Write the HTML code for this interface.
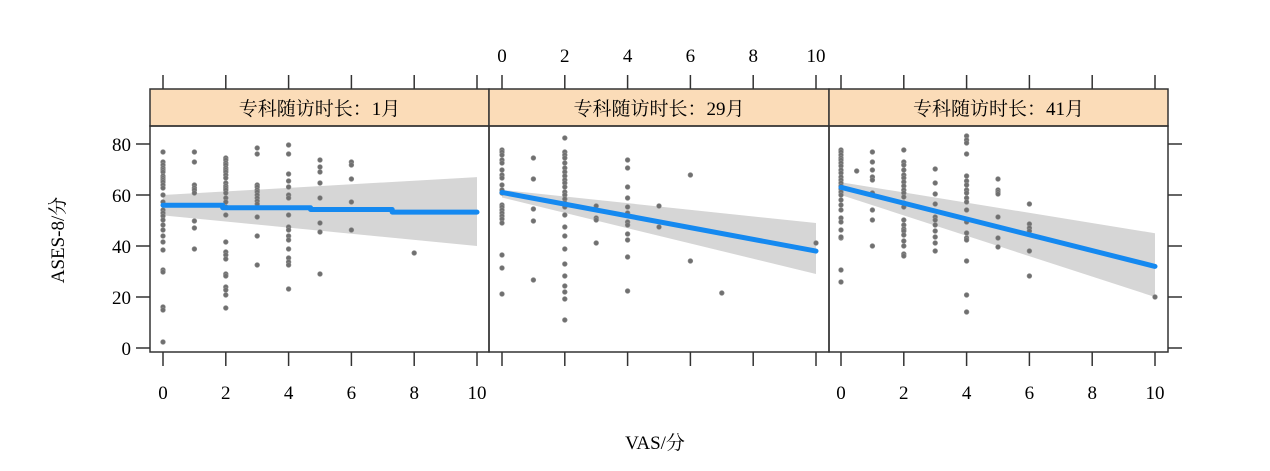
<!DOCTYPE html><html><head><meta charset="utf-8"><style>body{margin:0;background:#fff}svg{display:block}text{font-family:"Liberation Serif","Noto Serif CJK SC",serif;fill:#000}</style></head><body>
<svg id="s" width="1270" height="471" xmlns="http://www.w3.org/2000/svg"></svg>
<script>
const s=document.getElementById('s');const NS='http://www.w3.org/2000/svg';
function el(t,a,txt){const e=document.createElementNS(NS,t);for(const k in a)e.setAttribute(k,a[k]);if(txt!==undefined)e.textContent=txt;s.appendChild(e);return e;}
const Y=v=>348-v*2.55;
const panels=[
 {x0:150,x1:489,t0:163,title:'专科随访时长：1月',band:[[60,52],[67,40]],line:[56,53],step:true,
  pts:{0:[152,162,165,168,170,172,176,178,180,182,185,188,195,202,210,213,216,220,225,230,236,242,250,270,272,307,310,342],1:[152,162,185,188,190,193,221,228,249],2:[158,160,163,165,168,170,172,175,178,183,186,188,190,193,198,202,207,215,242,252,255,259,274,276,287,290,295,308],3:[148,154,185,187,190,192,195,198,201,204,217,236,265],4:[145,154,174,181,187,195,198,215,227,230,236,240,249,258,262,265,289],5:[160,167,172,183,198,223,232,274],6:[162,165,179,202,230],8:[253]}},
 {x0:489,x1:829,t0:502,title:'专科随访时长：29月',band:[[62,59],[49,29]],line:[61,38],
  pts:{0:[150,152,155,160,163,170,175,178,185,190,193,205,207,210,213,216,219,223,255,268,294],1:[158,179,209,221,280],2:[138,152,155,158,163,168,172,176,180,183,187,192,195,199,203,207,215,227,236,249,264,276,286,292,299,320],3:[206,218,220,243],4:[160,168,187,198,207,213,222,225,234,240,257,291],5:[206,227],6:[175,261],7:[293],10:[243]}},
 {x0:829,x1:1168,t0:841,title:'专科随访时长：41月',band:[[65,60],[45,20]],line:[63,32],
  pts:{0:[150,152,155,158,160,163,166,170,173,177,180,183,186,189,192,195,200,205,210,218,222,230,238,237,270,282],0.5:[171],1:[152,162,170,177,180,193,210,220,246],2:[150,162,165,170,175,178,182,186,190,193,197,203,207,220,225,229,231,235,241,246,254,256],3:[169,183,194,204,217,220,225,231,237,243,251],4:[136,140,143,154,176,181,185,190,193,198,202,210,222,233,238,240,261,295,312],5:[179,190,192,194,217,238,247],6:[204,224,228,231,251,276],10:[297]}}
];
panels.forEach((p,i)=>{
 const X=v=>p.t0+v*31.4;
 el('rect',{x:p.x0,y:89,width:p.x1-p.x0,height:37,fill:'#fbdcb8',stroke:'#333','stroke-width':1.5});
 el('text',{x:(p.x0+p.x1)/2,y:115,'text-anchor':'middle','font-size':19},p.title);
 const b0=p.band[0],b1=p.band[1];
 el('polygon',{points:`${X(0)},${Y(b0[0])} ${X(10)},${Y(b1[0])} ${X(10)},${Y(b1[1])} ${X(0)},${Y(b0[1])}`,fill:'#d6d6d6'});
 for(const k in p.pts){p.pts[k].forEach(y=>el('circle',{cx:X(+k),cy:y,r:2.4,fill:'#707070',stroke:'#909090','stroke-width':0.6}));}
 if(p.step){const segs=[[0,1.9,56],[1.9,4.7,55],[4.7,7.3,54.3],[7.3,10,53.3]];segs.forEach(g=>{el('line',{x1:X(g[0]),x2:X(g[1]),y1:Y(g[2]),y2:Y(g[2]),stroke:'#1589f0','stroke-width':5,'stroke-linecap':'round'})});}
 else el('line',{x1:X(0),y1:Y(p.line[0]),x2:X(10),y2:Y(p.line[1]),stroke:'#1589f0','stroke-width':5,'stroke-linecap':'round'});
 el('rect',{x:p.x0,y:126,width:p.x1-p.x0,height:226,fill:'none',stroke:'#333','stroke-width':1.5});
 for(let v=0;v<=10;v+=2){
  el('line',{x1:X(v),x2:X(v),y1:75,y2:89,stroke:'#333','stroke-width':1.5});
  el('line',{x1:X(v),x2:X(v),y1:352,y2:366,stroke:'#333','stroke-width':1.5});
  if(i!=1) el('text',{x:X(v),y:399,'text-anchor':'middle','font-size':19},v);
  else el('text',{x:X(v),y:62,'text-anchor':'middle','font-size':19},v);
 }
});
for(let v=0;v<=80;v+=20){
 el('line',{x1:136,x2:150,y1:Y(v),y2:Y(v),stroke:'#333','stroke-width':1.5});
 el('line',{x1:1168,x2:1182,y1:Y(v),y2:Y(v),stroke:'#333','stroke-width':1.5});
 el('text',{x:131,y:Y(v)+7,'text-anchor':'end','font-size':19},v);
}
el('text',{x:655,y:449,'text-anchor':'middle','font-size':19},'VAS/分');
el('text',{x:0,y:0,'text-anchor':'middle','font-size':19,transform:'translate(64,240) rotate(-90)'},'ASES-8/分');
</script></body></html>
